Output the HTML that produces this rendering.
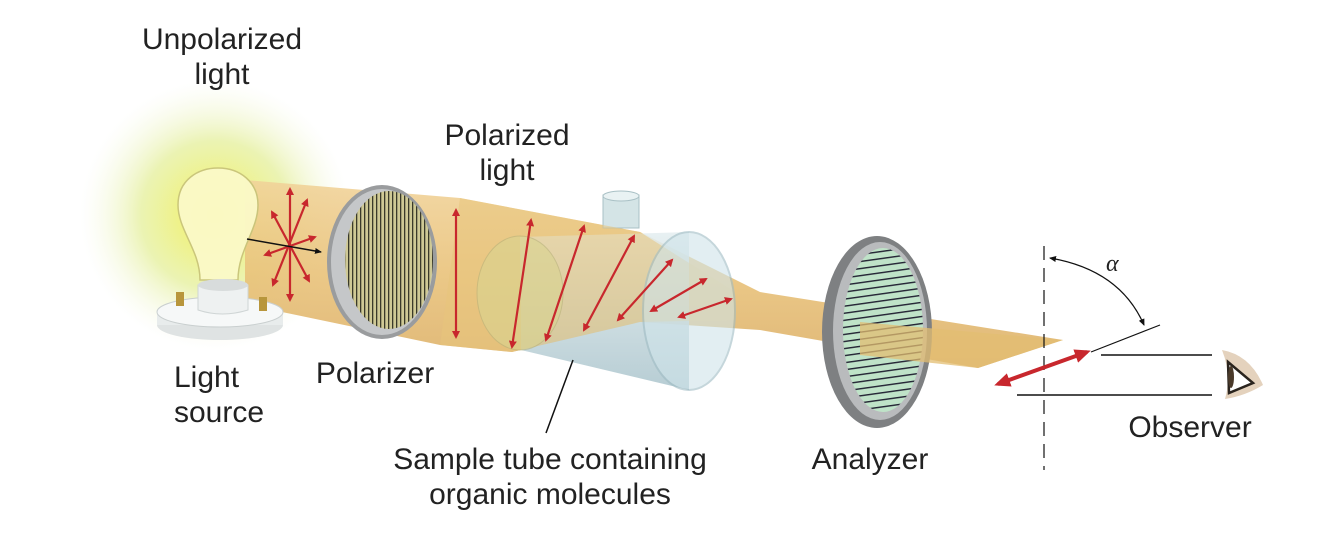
<!DOCTYPE html>
<html><head><meta charset="utf-8"><style>
html,body{margin:0;padding:0;background:#fff;}
#c{position:relative;width:1322px;height:560px;overflow:hidden;background:#fff;}
.t{position:absolute;font-family:"Liberation Sans",sans-serif;font-size:30px;color:#222;text-align:center;line-height:35px;white-space:nowrap;}
</style></head><body><div id="c">
<svg width="1322" height="560" viewBox="0 0 1322 560" style="position:absolute;left:0;top:0">
<defs>
<radialGradient id="glow" cx="0.5" cy="0.5" r="0.5">
<stop offset="0" stop-color="#f4f25a"/><stop offset="0.55" stop-color="#e6f0a0" stop-opacity="0.8"/><stop offset="1" stop-color="#f4f8e4" stop-opacity="0"/>
</radialGradient>
<linearGradient id="beam" x1="0" y1="0" x2="0" y2="1">
<stop offset="0" stop-color="#f1d39a"/><stop offset="0.5" stop-color="#e9c27a"/><stop offset="1" stop-color="#dcb068"/>
</linearGradient>
<linearGradient id="tube" x1="0" y1="0" x2="0" y2="1">
<stop offset="0" stop-color="#e4eef0"/><stop offset="1" stop-color="#aac4cc"/>
</linearGradient>
<pattern id="vstr" width="4" height="4" patternUnits="userSpaceOnUse"><rect width="4" height="4" fill="#cfc995"/><rect width="1.3" height="4" fill="#3a3a2a"/></pattern>
<pattern id="hstr" width="6" height="7" patternUnits="userSpaceOnUse" patternTransform="rotate(-8)"><rect width="6" height="7" fill="#bfe3c8"/><rect width="6" height="1.4" fill="#223"/></pattern>
<marker id="ar" markerWidth="8" markerHeight="8" refX="6" refY="4" orient="auto-start-reverse" markerUnits="userSpaceOnUse"><path d="M0,0 L8,4 L0,8 z" fill="#c8272d"/></marker>
<marker id="ab" markerWidth="7" markerHeight="6" refX="6" refY="3" orient="auto-start-reverse" markerUnits="userSpaceOnUse"><path d="M0,0 L7,3 L0,6 z" fill="#111"/></marker>
<marker id="arb" markerWidth="16" markerHeight="14" refX="12" refY="7" orient="auto-start-reverse" markerUnits="userSpaceOnUse"><path d="M0,0 L16,7 L0,14 z" fill="#c8272d"/></marker>
</defs>
<circle cx="215" cy="215" r="135" fill="url(#glow)"/>
<polygon points="245,180 460,198 640,232 760,292 1063,340 978,368 760,330 640,322 512,352 440,345 282,312 245,300" fill="url(#beam)" opacity="0.9"/>
<path d="M200,280 C200,250 178,230 178,205 C178,180 198,168 218,168 C240,168 258,182 258,205 C258,230 238,250 238,280 Z" fill="#fbfac8" stroke="#c9c47a" stroke-width="1.5" opacity="0.95"/>
<ellipse cx="220" cy="325" rx="63" ry="15" fill="#dfe3e3"/>
<rect x="157" y="312" width="126" height="13" fill="#e8ecec"/>
<ellipse cx="220" cy="312" rx="63" ry="15" fill="#f6f8f8" stroke="#c9cfcf"/>
<path d="M198,285 L198,310 Q222,318 248,310 L248,285 Z" fill="#eef1f1" stroke="#cfd5d5"/>
<ellipse cx="223" cy="285" rx="25" ry="6" fill="#d8dcdc"/>
<rect x="176" y="292" width="8" height="14" fill="#b8963c"/>
<rect x="259" y="297" width="8" height="14" fill="#b8963c"/>
<g stroke="#c8272d" stroke-width="2.2" fill="none">
<line x1="290" y1="189" x2="290" y2="300" marker-start="url(#ar)" marker-end="url(#ar)"/>
<line x1="307" y1="200" x2="273" y2="285" marker-start="url(#ar)" marker-end="url(#ar)"/>
<line x1="272" y1="212" x2="309" y2="281" marker-start="url(#ar)" marker-end="url(#ar)"/>
<line x1="315" y1="237" x2="265" y2="255" marker-start="url(#ar)" marker-end="url(#ar)"/>
</g>
<line x1="247" y1="239" x2="321" y2="252" stroke="#111" stroke-width="1.5" marker-end="url(#ab)"/>
<ellipse cx="382" cy="262" rx="55" ry="77" fill="#9a9c9e"/>
<ellipse cx="382" cy="262" rx="51" ry="73" fill="#c5c7c9"/>
<ellipse cx="389" cy="260" rx="44" ry="69" fill="url(#vstr)"/>
<polygon points="520,237 689,232 689,390 521,350" fill="url(#tube)" opacity="0.85"/>
<rect x="603" y="195" width="36" height="33" fill="#d4e4e6" stroke="#a9c0c5"/>
<ellipse cx="621" cy="196" rx="18" ry="5" fill="#e9f2f3" stroke="#a9c0c5"/>
<polygon points="460,198 640,232 735,292 735,320 640,322 512,352 440,345" fill="#e7c57c" opacity="0.55"/>
<ellipse cx="520" cy="293" rx="43" ry="57" fill="#d9d490" opacity="0.6" stroke="#b8b37a"/>
<ellipse cx="689" cy="311" rx="46" ry="79" fill="#cfe4ea" opacity="0.6" stroke="#9fbcc4" stroke-width="2"/>
<g stroke="#c8272d" stroke-width="2.2">
<line x1="456" y1="210" x2="456" y2="337" marker-start="url(#ar)" marker-end="url(#ar)"/>
<line x1="531" y1="220" x2="512" y2="347" marker-start="url(#ar)" marker-end="url(#ar)"/>
<line x1="584" y1="226" x2="546" y2="340" marker-start="url(#ar)" marker-end="url(#ar)"/>
<line x1="634" y1="236" x2="584" y2="330" marker-start="url(#ar)" marker-end="url(#ar)"/>
<line x1="672" y1="260" x2="618" y2="320" marker-start="url(#ar)" marker-end="url(#ar)"/>
<line x1="706" y1="279" x2="651" y2="311" marker-start="url(#ar)" marker-end="url(#ar)"/>
<line x1="731" y1="299" x2="679" y2="317" marker-start="url(#ar)" marker-end="url(#ar)"/>
</g>
<line x1="573" y1="360" x2="546" y2="433" stroke="#111" stroke-width="1.5"/>
<ellipse cx="877" cy="332" rx="55" ry="96" fill="#7e8082"/>
<ellipse cx="880" cy="331" rx="47" ry="89" fill="#b9bbbd"/>
<ellipse cx="883" cy="330" rx="40" ry="82" fill="url(#hstr)"/>
<polygon points="860,322 1063,340 978,368 860,355" fill="#e3bd72" opacity="0.75"/>
<line x1="1044" y1="246" x2="1044" y2="470" stroke="#111" stroke-width="1.2" stroke-dasharray="14,8"/>
<path d="M1050,258 Q1120,270 1144,325" fill="none" stroke="#111" stroke-width="1.2" marker-start="url(#ab)" marker-end="url(#ab)"/>
<line x1="1091" y1="352" x2="1160" y2="325" stroke="#111" stroke-width="1.2"/>
<line x1="1101" y1="355" x2="1212" y2="355" stroke="#111" stroke-width="1.5"/>
<line x1="1017" y1="395" x2="1212" y2="395" stroke="#111" stroke-width="1.5"/>
<line x1="998" y1="384" x2="1087" y2="352" stroke="#c8272d" stroke-width="4" marker-start="url(#arb)" marker-end="url(#arb)"/>
<path d="M1222,350 Q1250,355 1263,385 Q1245,396 1225,399 Q1232,375 1222,350 Z" fill="#e4d2bd"/>
<path d="M1228,362 L1253,383 L1229,393 Z" fill="#fff" stroke="#2a241e" stroke-width="2.5"/>
<ellipse cx="1231" cy="377" rx="3" ry="11" fill="#4a3a2a"/>
<text x="1106" y="271" font-family="Liberation Serif,serif" font-style="italic" font-size="24" fill="#222">α</text>
</svg>
<div class="t" style="left:122px;top:22px;width:200px">Unpolarized<br>light</div>
<div class="t" style="left:407px;top:118px;width:200px">Polarized<br>light</div>
<div class="t" style="left:174px;top:360px;width:120px;text-align:left">Light<br>source</div>
<div class="t" style="left:300px;top:356px;width:150px">Polarizer</div>
<div class="t" style="left:350px;top:442px;width:400px">Sample tube containing<br>organic molecules</div>
<div class="t" style="left:795px;top:442px;width:150px">Analyzer</div>
<div class="t" style="left:1115px;top:410px;width:150px">Observer</div>
</div></body></html>
